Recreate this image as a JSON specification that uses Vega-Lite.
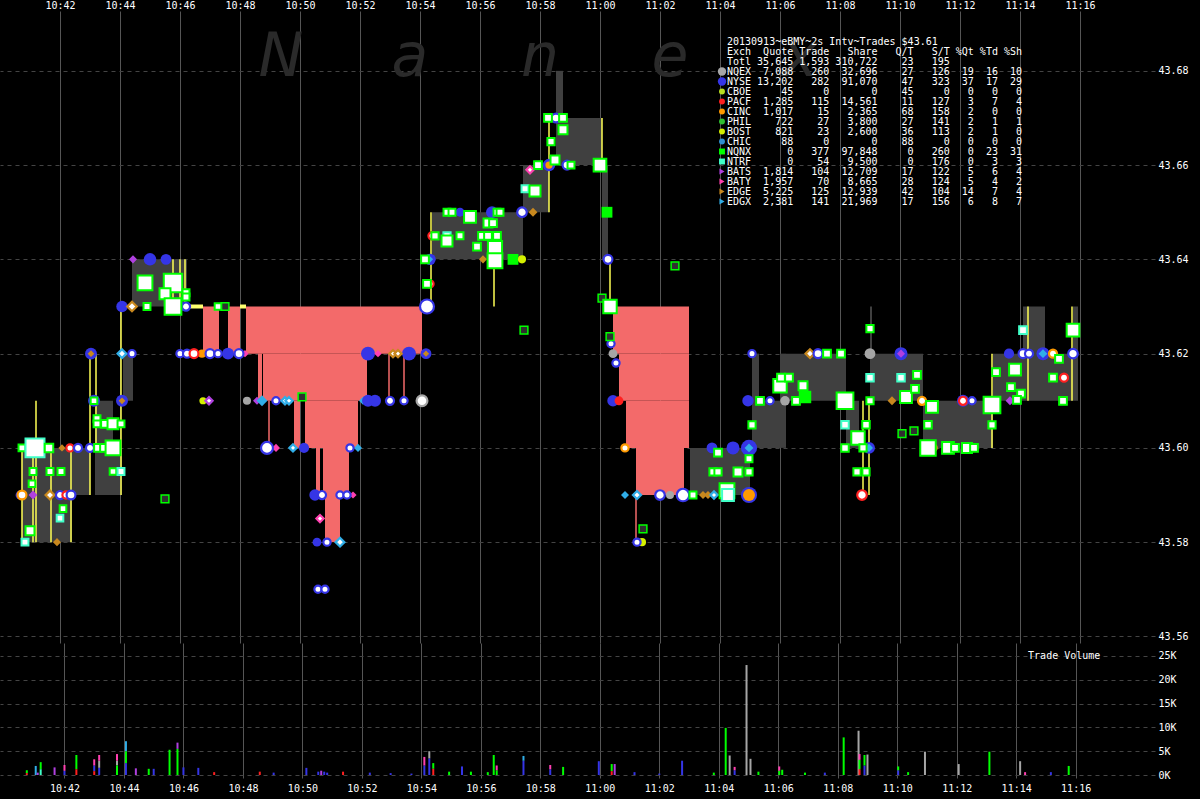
{
"$schema":"https://vega.github.io/schema/vega-lite/v6.json",
"background":"black",
"padding":{"left":0,"top":0,"right":11,"bottom":6},
"spacing":0,
"config":{"view":{"stroke":null},"axis":{"labelFont":"DejaVu Sans Mono","labelFontSize":10,"labelColor":"white","domain":false,"ticks":false,"title":null,"labelOverlap":false,"labelFlush":false}},
"vconcat":[
{
"width":1155,"height":632,
"layer":[
{"layer":[
{"data":{"values":[{"c":"N","t":"10:49:22"},{"c":"a","t":"10:53:40"},{"c":"n","t":"10:58:00"},{"c":"e","t":"11:02:20"},{"c":"x","t":"11:06:40"}],"format":{"parse":{"t":"date:'%H:%M:%S'"}}},
"mark":{"type":"text","font":"DejaVu Sans","fontSize":60,"fontStyle":"italic","color":"#2a2a2a","align":"center","baseline":"alphabetic"},
"encoding":{
"x":{"field":"t","type":"temporal","scale":{"domain":[{"year":1900,"month":1,"date":1,"hours":10,"minutes":40},{"year":1900,"month":1,"date":1,"hours":11,"minutes":18,"seconds":30}]},
"axis":{"orient":"top","format":"%H:%M","grid":true,"gridColor":"#555555","labelPadding":1,"tickCount":40,
"values":[{"year":1900,"month":1,"date":1,"hours":10,"minutes":42},{"year":1900,"month":1,"date":1,"hours":10,"minutes":44},{"year":1900,"month":1,"date":1,"hours":10,"minutes":46},{"year":1900,"month":1,"date":1,"hours":10,"minutes":48},{"year":1900,"month":1,"date":1,"hours":10,"minutes":50},{"year":1900,"month":1,"date":1,"hours":10,"minutes":52},{"year":1900,"month":1,"date":1,"hours":10,"minutes":54},{"year":1900,"month":1,"date":1,"hours":10,"minutes":56},{"year":1900,"month":1,"date":1,"hours":10,"minutes":58},{"year":1900,"month":1,"date":1,"hours":11,"minutes":0},{"year":1900,"month":1,"date":1,"hours":11,"minutes":2},{"year":1900,"month":1,"date":1,"hours":11,"minutes":4},{"year":1900,"month":1,"date":1,"hours":11,"minutes":6},{"year":1900,"month":1,"date":1,"hours":11,"minutes":8},{"year":1900,"month":1,"date":1,"hours":11,"minutes":10},{"year":1900,"month":1,"date":1,"hours":11,"minutes":12},{"year":1900,"month":1,"date":1,"hours":11,"minutes":14},{"year":1900,"month":1,"date":1,"hours":11,"minutes":16}]}},
"y":{"datum":43.6789,"type":"quantitative","scale":{"domain":[43.5586,43.6927],"nice":false,"zero":false},
"axis":{"orient":"right","values":[43.56,43.58,43.6,43.62,43.64,43.66,43.68],"tickCount":20,"format":".2f","grid":true,"gridColor":"#444444","gridDash":[4,4],"labelPadding":3}},
"text":{"field":"c"}}},
{"data":{"values":[
{"t1":"10:40:44","t2":"10:41:40","lo":43.58,"hi":43.60},
{"t1":"10:41:40","t2":"10:42:24","lo":43.58,"hi":43.60},
{"t1":"10:42:24","t2":"10:43:00","lo":43.59,"hi":43.60},
{"t1":"10:43:10","t2":"10:43:46","lo":43.59,"hi":43.61},
{"t1":"10:43:46","t2":"10:44:04","lo":43.59,"hi":43.60},
{"t1":"10:44:06","t2":"10:44:26","lo":43.61,"hi":43.62},
{"t1":"10:44:24","t2":"10:46:14","lo":43.63,"hi":43.64},
{"t1":"10:54:24","t2":"10:57:26","lo":43.64,"hi":43.65},
{"t1":"10:57:26","t2":"10:58:18","lo":43.65,"hi":43.66},
{"t1":"10:58:32","t2":"10:58:46","lo":43.66,"hi":43.68},
{"t1":"10:58:46","t2":"11:00:04","lo":43.66,"hi":43.67},
{"t1":"11:00:04","t2":"11:00:16","lo":43.64,"hi":43.66},
{"t1":"11:03:00","t2":"11:05:00","lo":43.59,"hi":43.60},
{"t1":"11:05:04","t2":"11:05:18","lo":43.60,"hi":43.62},
{"t1":"11:05:18","t2":"11:06:00","lo":43.60,"hi":43.61},
{"t1":"11:06:00","t2":"11:06:12","lo":43.60,"hi":43.62},
{"t1":"11:06:12","t2":"11:08:12","lo":43.61,"hi":43.62},
{"t1":"11:08:12","t2":"11:08:38","lo":43.60,"hi":43.61},
{"t1":"11:09:00","t2":"11:09:04","lo":43.62,"hi":43.63},
{"t1":"11:09:00","t2":"11:10:46","lo":43.61,"hi":43.62},
{"t1":"11:10:46","t2":"11:13:06","lo":43.60,"hi":43.61},
{"t1":"11:13:06","t2":"11:14:06","lo":43.61,"hi":43.62},
{"t1":"11:14:06","t2":"11:14:50","lo":43.61,"hi":43.63},
{"t1":"11:14:50","t2":"11:15:56","lo":43.61,"hi":43.62},
{"t1":"11:15:46","t2":"11:15:56","lo":43.62,"hi":43.63}
],"format":{"parse":{"t1":"date:'%H:%M:%S'","t2":"date:'%H:%M:%S'"}}},
"mark":{"type":"rect","color":"#404040"},
"encoding":{"x":{"field":"t1","type":"temporal"},"x2":{"field":"t2"},"y":{"field":"lo","type":"quantitative","scale":{"domain":[43.5586,43.6927],"nice":false,"zero":false}},"y2":{"field":"hi"}}},
{"data":{"values":[
{"t1":"10:46:46","t2":"10:47:18","lo":43.62,"hi":43.63},
{"t1":"10:47:36","t2":"10:48:00","lo":43.62,"hi":43.63},
{"t1":"10:48:12","t2":"10:54:04","lo":43.62,"hi":43.63},
{"t1":"10:48:36","t2":"10:48:44","lo":43.61,"hi":43.62},
{"t1":"10:48:46","t2":"10:52:14","lo":43.61,"hi":43.62},
{"t1":"10:49:48","t2":"10:50:00","lo":43.60,"hi":43.61},
{"t1":"10:50:10","t2":"10:51:56","lo":43.60,"hi":43.61},
{"t1":"10:50:32","t2":"10:50:40","lo":43.59,"hi":43.60},
{"t1":"10:50:46","t2":"10:51:38","lo":43.59,"hi":43.60},
{"t1":"10:50:50","t2":"10:51:20","lo":43.58,"hi":43.59},
{"t1":"11:00:26","t2":"11:02:58","lo":43.62,"hi":43.63},
{"t1":"11:00:38","t2":"11:02:58","lo":43.61,"hi":43.62},
{"t1":"11:00:52","t2":"11:02:58","lo":43.60,"hi":43.61},
{"t1":"11:01:12","t2":"11:02:48","lo":43.59,"hi":43.60}
],"format":{"parse":{"t1":"date:'%H:%M:%S'","t2":"date:'%H:%M:%S'"}}},
"mark":{"type":"rect","color":"#f36a6a"},
"encoding":{"x":{"field":"t1","type":"temporal"},"x2":{"field":"t2"},"y":{"field":"lo","type":"quantitative","scale":{"domain":[43.5586,43.6927],"nice":false,"zero":false}},"y2":{"field":"hi"}}},
{"data":{"values":[
{"t":"10:48:58","lo":43.60,"hi":43.61},{"t":"10:52:58","lo":43.61,"hi":43.62},{"t":"10:53:28","lo":43.61,"hi":43.62},{"t":"11:01:12","lo":43.58,"hi":43.59}
],"format":{"parse":{"t":"date:'%H:%M:%S'"}}},
"mark":{"type":"rule","color":"#f36a6a","strokeWidth":1.5},
"encoding":{"x":{"field":"t","type":"temporal"},"y":{"field":"lo","type":"quantitative","scale":{"domain":[43.5586,43.6927],"nice":false,"zero":false}},"y2":{"field":"hi"}}},
{"data":{"values":[
{"t":"10:40:44","lo":43.58,"hi":43.60},{"t":"10:41:06","lo":43.58,"hi":43.60},{"t":"10:41:12","lo":43.58,"hi":43.61},{"t":"10:41:42","lo":43.58,"hi":43.60},{"t":"10:42:22","lo":43.58,"hi":43.60},{"t":"10:43:00","lo":43.59,"hi":43.62},{"t":"10:43:12","lo":43.60,"hi":43.62},{"t":"10:44:02","lo":43.59,"hi":43.63},{"t":"10:45:46","lo":43.63,"hi":43.64},{"t":"10:46:00","lo":43.63,"hi":43.64},{"t":"10:46:10","lo":43.63,"hi":43.64},{"t":"10:54:22","lo":43.63,"hi":43.65},{"t":"10:56:28","lo":43.63,"hi":43.64},{"t":"10:58:18","lo":43.65,"hi":43.67},{"t":"11:00:04","lo":43.66,"hi":43.67},{"t":"11:00:20","lo":43.63,"hi":43.64},{"t":"11:08:46","lo":43.59,"hi":43.61},{"t":"11:08:58","lo":43.59,"hi":43.61},{"t":"11:13:04","lo":43.60,"hi":43.62},{"t":"11:14:16","lo":43.61,"hi":43.63},{"t":"11:15:44","lo":43.61,"hi":43.63}
],"format":{"parse":{"t":"date:'%H:%M:%S'"}}},
"mark":{"type":"rule","color":"#ffff55","strokeWidth":1.5},
"encoding":{"x":{"field":"t","type":"temporal"},"y":{"field":"lo","type":"quantitative","scale":{"domain":[43.5586,43.6927],"nice":false,"zero":false}},"y2":{"field":"hi"}}},
{"data":{"values":[{"t1":"10:46:14","t2":"10:46:46","p":43.63},{"t1":"10:48:00","t2":"10:48:12","p":43.63}],"format":{"parse":{"t1":"date:'%H:%M:%S'","t2":"date:'%H:%M:%S'"}}},
"mark":{"type":"rule","color":"#ffff70","strokeWidth":4},
"encoding":{"x":{"field":"t1","type":"temporal"},"x2":{"field":"t2"},"y":{"field":"p","type":"quantitative","scale":{"domain":[43.5586,43.6927],"nice":false,"zero":false}}}},
{"data":{"values":[
{"t":"10:40:40","p":43.59,"ex":"NYSE","v":60},{"t":"10:41:06","p":43.59,"ex":"BATS","v":60},{"t":"10:42:04","p":43.60,"ex":"EDGE","v":40},{"t":"10:41:54","p":43.58,"ex":"EDGE","v":50},
{"t":"10:43:02","p":43.62,"ex":"NYSE","v":110},{"t":"10:43:02","p":43.62,"ex":"EDGE","v":35},{"t":"10:43:08","p":43.61,"ex":"NYSE","v":110},{"t":"10:44:04","p":43.61,"ex":"NYSE","v":110},{"t":"10:44:04","p":43.61,"ex":"EDGE","v":35},{"t":"10:44:04","p":43.63,"ex":"NYSE","v":100},
{"t":"10:44:26","p":43.64,"ex":"BATS","v":50},{"t":"10:45:00","p":43.64,"ex":"NYSE","v":120},{"t":"10:45:32","p":43.64,"ex":"NYSE","v":90},{"t":"10:46:00","p":43.63,"ex":"NYSE","v":80},
{"t":"10:46:44","p":43.62,"ex":"CINC","v":50},{"t":"10:47:36","p":43.62,"ex":"NYSE","v":110},{"t":"10:48:10","p":43.62,"ex":"BATY","v":40},{"t":"10:46:46","p":43.61,"ex":"BOST","v":40},
{"t":"10:48:14","p":43.61,"ex":"NQEX","v":50},{"t":"10:48:34","p":43.61,"ex":"BATS","v":50},{"t":"10:48:44","p":43.61,"ex":"EDGX","v":90},{"t":"10:49:12","p":43.60,"ex":"BATY","v":50},
{"t":"10:50:08","p":43.60,"ex":"NYSE","v":80},{"t":"10:51:56","p":43.60,"ex":"EDGX","v":50},{"t":"10:50:30","p":43.59,"ex":"NYSE","v":100},{"t":"10:51:46","p":43.59,"ex":"BATY","v":40},{"t":"10:50:34","p":43.58,"ex":"NYSE","v":60},
{"t":"10:52:06","p":43.61,"ex":"EDGX","v":50},{"t":"10:52:16","p":43.61,"ex":"NYSE","v":110},{"t":"10:52:30","p":43.61,"ex":"NYSE","v":110},{"t":"10:52:16","p":43.62,"ex":"NYSE","v":150},{"t":"10:52:36","p":43.62,"ex":"BATY","v":40},
{"t":"10:53:38","p":43.62,"ex":"NYSE","v":150},{"t":"10:54:12","p":43.62,"ex":"NYSE","v":90},{"t":"10:54:12","p":43.62,"ex":"EDGE","v":30},{"t":"10:54:20","p":43.64,"ex":"NYSE","v":100},{"t":"10:54:20","p":43.64,"ex":"EDGX","v":30},
{"t":"10:55:20","p":43.65,"ex":"NYSE","v":60},{"t":"10:56:24","p":43.65,"ex":"NYSE","v":110},{"t":"10:57:46","p":43.65,"ex":"EDGE","v":60},{"t":"10:56:06","p":43.64,"ex":"EDGE","v":50},{"t":"10:57:06","p":43.64,"ex":"NQNX","v":90},{"t":"10:57:24","p":43.64,"ex":"BOST","v":50},
{"t":"10:58:18","p":43.66,"ex":"NYSE","v":120},{"t":"10:58:18","p":43.66,"ex":"CINC","v":40},{"t":"11:00:14","p":43.65,"ex":"NQNX","v":90},{"t":"11:00:26","p":43.62,"ex":"NQEX","v":60},{"t":"11:00:26","p":43.61,"ex":"NYSE","v":100},{"t":"11:00:38","p":43.61,"ex":"PACF","v":60},
{"t":"11:00:50","p":43.59,"ex":"EDGX","v":50},{"t":"11:02:20","p":43.59,"ex":"NQEX","v":50},{"t":"11:03:26","p":43.59,"ex":"EDGE","v":50},{"t":"11:03:36","p":43.59,"ex":"EDGE","v":50},{"t":"11:01:24","p":43.58,"ex":"BOST","v":50},
{"t":"11:03:44","p":43.60,"ex":"NYSE","v":90},{"t":"11:04:26","p":43.60,"ex":"NYSE","v":130},{"t":"11:04:58","p":43.60,"ex":"NYSE","v":200},{"t":"11:04:58","p":43.60,"ex":"EDGX","v":60},{"t":"11:04:58","p":43.59,"ex":"NYSE","v":200},{"t":"11:04:58","p":43.59,"ex":"CINC","v":110},
{"t":"11:04:56","p":43.61,"ex":"NYSE","v":100},{"t":"11:06:10","p":43.61,"ex":"NQEX","v":70},{"t":"11:06:50","p":43.6108,"ex":"NQNX","v":120},{"t":"11:09:00","p":43.62,"ex":"NQEX","v":90},{"t":"11:10:02","p":43.62,"ex":"NYSE","v":130},{"t":"11:10:02","p":43.62,"ex":"BATS","v":50},
{"t":"11:09:44","p":43.61,"ex":"EDGE","v":60},{"t":"11:08:58","p":43.60,"ex":"NYSE","v":110},{"t":"11:08:58","p":43.60,"ex":"EDGX","v":50},{"t":"11:12:06","p":43.61,"ex":"NYSE","v":110},{"t":"11:13:40","p":43.61,"ex":"BATS","v":60},{"t":"11:13:38","p":43.62,"ex":"NYSE","v":80},
{"t":"11:14:46","p":43.62,"ex":"NYSE","v":130},{"t":"11:14:46","p":43.62,"ex":"EDGX","v":60}
],"format":{"parse":{"t":"date:'%H:%M:%S'"}}},
"mark":{"type":"point","filled":true,"opacity":1,"strokeWidth":0},
"encoding":{"x":{"field":"t","type":"temporal"},"y":{"field":"p","type":"quantitative","scale":{"domain":[43.5586,43.6927],"nice":false,"zero":false}},
"color":{"field":"ex","type":"nominal","legend":null,"scale":{"domain":["NQEX","NYSE","CBOE","PACF","CINC","PHIL","BOST","CHIC","NQNX","NTRF","BATS","BATY","EDGE","EDGX"],"range":["#a6a6a6","#3535e6","#b8e020","#ff2020","#ff9a00","#30c030","#d4f000","#2f8fd0","#00ff00","#40ffc8","#b040e0","#ff40b0","#c8881e","#30aee8"]}},
"shape":{"field":"ex","type":"nominal","legend":null,"scale":{"domain":["NQEX","NYSE","CBOE","PACF","CINC","PHIL","BOST","CHIC","NQNX","NTRF","BATS","BATY","EDGE","EDGX"],"range":["circle","circle","circle","circle","circle","circle","circle","circle","square","square","diamond","diamond","diamond","diamond"]}},
"size":{"field":"v","type":"quantitative","legend":null,"scale":{"domain":[0,200],"range":[0,260]}}}},
{"data":{"values":[
{"t":"10:40:44","p":43.59,"ex":"CINC","v":60},{"t":"10:41:40","p":43.59,"ex":"EDGE","v":60},{"t":"10:42:00","p":43.59,"ex":"NYSE","v":50},{"t":"10:42:12","p":43.59,"ex":"PACF","v":40},{"t":"10:42:22","p":43.59,"ex":"NYSE","v":60},
{"t":"10:42:20","p":43.60,"ex":"PACF","v":40},{"t":"10:42:36","p":43.60,"ex":"NYSE","v":50},{"t":"10:43:00","p":43.60,"ex":"NYSE","v":50},{"t":"10:44:04","p":43.62,"ex":"EDGX","v":60},{"t":"10:44:24","p":43.62,"ex":"NYSE","v":40},
{"t":"10:44:24","p":43.63,"ex":"EDGE","v":70},{"t":"10:46:12","p":43.63,"ex":"NYSE","v":50},{"t":"10:46:00","p":43.62,"ex":"NYSE","v":40},{"t":"10:46:14","p":43.62,"ex":"NYSE","v":50},{"t":"10:46:28","p":43.62,"ex":"PACF","v":60},
{"t":"10:47:00","p":43.62,"ex":"NYSE","v":60},{"t":"10:47:16","p":43.62,"ex":"NYSE","v":40},{"t":"10:47:58","p":43.62,"ex":"NYSE","v":60},{"t":"10:46:58","p":43.61,"ex":"BATS","v":40},{"t":"10:49:12","p":43.61,"ex":"NYSE","v":40},
{"t":"10:49:30","p":43.61,"ex":"EDGX","v":40},{"t":"10:49:38","p":43.61,"ex":"EDGX","v":40},{"t":"10:48:54","p":43.60,"ex":"NYSE","v":110},{"t":"10:49:46","p":43.60,"ex":"EDGX","v":40},{"t":"10:51:40","p":43.60,"ex":"NYSE","v":40},
{"t":"10:50:44","p":43.59,"ex":"NYSE","v":50},{"t":"10:51:20","p":43.59,"ex":"NYSE","v":40},{"t":"10:51:34","p":43.59,"ex":"NYSE","v":40},{"t":"10:50:40","p":43.585,"ex":"BATY","v":40},{"t":"10:50:54","p":43.58,"ex":"NYSE","v":40},
{"t":"10:51:20","p":43.58,"ex":"EDGX","v":60},{"t":"10:50:36","p":43.57,"ex":"NYSE","v":40},{"t":"10:50:50","p":43.57,"ex":"NYSE","v":40},{"t":"10:53:00","p":43.61,"ex":"NYSE","v":50},{"t":"10:53:28","p":43.61,"ex":"NYSE","v":40},
{"t":"10:54:04","p":43.61,"ex":"NQEX","v":90},{"t":"10:53:06","p":43.62,"ex":"EDGE","v":40},{"t":"10:53:16","p":43.62,"ex":"EDGE","v":40},{"t":"10:54:14","p":43.63,"ex":"NYSE","v":150},{"t":"10:54:20","p":43.6348,"ex":"PACF","v":40},
{"t":"10:54:24","p":43.645,"ex":"PACF","v":40},{"t":"10:57:24","p":43.65,"ex":"NYSE","v":70},{"t":"10:57:40","p":43.659,"ex":"BATY","v":40},{"t":"10:58:54","p":43.66,"ex":"NYSE","v":60},{"t":"10:58:32","p":43.67,"ex":"NYSE","v":60},
{"t":"11:00:16","p":43.64,"ex":"NYSE","v":60},{"t":"11:00:22","p":43.6221,"ex":"NYSE","v":40},{"t":"11:00:32","p":43.618,"ex":"NYSE","v":40},{"t":"11:00:50","p":43.60,"ex":"CINC","v":40},{"t":"11:01:14","p":43.59,"ex":"EDGX","v":50},
{"t":"11:02:00","p":43.59,"ex":"NYSE","v":70},{"t":"11:02:46","p":43.59,"ex":"NYSE","v":120},{"t":"11:03:48","p":43.59,"ex":"EDGX","v":40},{"t":"11:01:14","p":43.58,"ex":"NYSE","v":40},{"t":"11:05:04","p":43.62,"ex":"NYSE","v":40},
{"t":"11:05:40","p":43.61,"ex":"NYSE","v":40},{"t":"11:07:00","p":43.62,"ex":"EDGE","v":60},{"t":"11:07:16","p":43.62,"ex":"NYSE","v":60},{"t":"11:08:10","p":43.61,"ex":"CINC","v":40},{"t":"11:10:44","p":43.61,"ex":"CINC","v":50},
{"t":"11:11:06","p":43.60,"ex":"CINC","v":40},{"t":"11:08:44","p":43.59,"ex":"PACF","v":70},{"t":"11:12:06","p":43.61,"ex":"PACF","v":50},{"t":"11:12:24","p":43.61,"ex":"NYSE","v":40},{"t":"11:14:06","p":43.62,"ex":"NYSE","v":60},
{"t":"11:14:18","p":43.62,"ex":"NYSE","v":50},{"t":"11:15:06","p":43.62,"ex":"CINC","v":50},{"t":"11:15:46","p":43.62,"ex":"NYSE","v":70},{"t":"11:15:28","p":43.6149,"ex":"PACF","v":50}
],"format":{"parse":{"t":"date:'%H:%M:%S'"}}},
"mark":{"type":"point","filled":true,"fill":"white","opacity":1,"strokeWidth":2.2},
"encoding":{"x":{"field":"t","type":"temporal"},"y":{"field":"p","type":"quantitative","scale":{"domain":[43.5586,43.6927],"nice":false,"zero":false}},
"stroke":{"field":"ex","type":"nominal","legend":null,"scale":{"domain":["NQEX","NYSE","CBOE","PACF","CINC","PHIL","BOST","CHIC","NQNX","NTRF","BATS","BATY","EDGE","EDGX"],"range":["#a6a6a6","#3535e6","#b8e020","#ff2020","#ff9a00","#30c030","#d4f000","#2f8fd0","#00ff00","#40ffc8","#b040e0","#ff40b0","#c8881e","#30aee8"]}},
"shape":{"field":"ex","type":"nominal","legend":null,"scale":{"domain":["NQEX","NYSE","CBOE","PACF","CINC","PHIL","BOST","CHIC","NQNX","NTRF","BATS","BATY","EDGE","EDGX"],"range":["circle","circle","circle","circle","circle","circle","circle","circle","square","square","diamond","diamond","diamond","diamond"]}},
"size":{"field":"v","type":"quantitative","legend":null,"scale":{"domain":[0,200],"range":[0,260]}}}},
{"data":{"values":[
{"t":"10:45:30","p":43.5892,"ex":"NQNX"},{"t":"10:47:30","p":43.63,"ex":"NQNX"},{"t":"10:50:04","p":43.6108,"ex":"NQNX"},{"t":"10:57:28","p":43.625,"ex":"NQNX"},{"t":"11:02:30","p":43.6386,"ex":"NQNX"},
{"t":"11:00:04","p":43.6318,"ex":"NQNX"},{"t":"11:00:20","p":43.6236,"ex":"NQNX"},{"t":"11:01:26","p":43.5828,"ex":"NQNX"},{"t":"11:10:04","p":43.603,"ex":"NQNX"},{"t":"11:10:28","p":43.6036,"ex":"NQNX"}
],"format":{"parse":{"t":"date:'%H:%M:%S'"}}},
"mark":{"type":"point","shape":"square","filled":true,"fill":"#303030","opacity":1,"strokeWidth":1.5,"size":60},
"encoding":{"x":{"field":"t","type":"temporal"},"y":{"field":"p","type":"quantitative","scale":{"domain":[43.5586,43.6927],"nice":false,"zero":false}},
"stroke":{"field":"ex","type":"nominal","legend":null,"scale":{"domain":["NQEX","NYSE","CBOE","PACF","CINC","PHIL","BOST","CHIC","NQNX","NTRF","BATS","BATY","EDGE","EDGX"],"range":["#a6a6a6","#3535e6","#b8e020","#ff2020","#ff9a00","#30c030","#d4f000","#2f8fd0","#00ff00","#40ffc8","#b040e0","#ff40b0","#c8881e","#30aee8"]}}}},
{"data":{"values":[
{"t":"10:40:44","p":43.60,"ex":"NQNX","v":120},{"t":"10:41:10","p":43.60,"ex":"NTRF","v":900},{"t":"10:41:38","p":43.60,"ex":"NQNX","v":180},{"t":"10:43:16","p":43.60,"ex":"NQNX","v":150},{"t":"10:43:28","p":43.60,"ex":"NQNX","v":150},{"t":"10:43:46","p":43.60,"ex":"NQNX","v":550},
{"t":"10:41:06","p":43.595,"ex":"NQNX","v":120},{"t":"10:41:40","p":43.595,"ex":"NQNX","v":120},{"t":"10:42:02","p":43.595,"ex":"NQNX","v":120},{"t":"10:43:46","p":43.595,"ex":"NQNX","v":110},{"t":"10:44:02","p":43.595,"ex":"NTRF","v":120},
{"t":"10:41:04","p":43.5924,"ex":"NQNX","v":110},{"t":"10:42:06","p":43.5871,"ex":"NQNX","v":110},{"t":"10:42:00","p":43.5851,"ex":"NTRF","v":110},{"t":"10:41:00","p":43.5824,"ex":"NQNX","v":200},{"t":"10:40:50","p":43.58,"ex":"NTRF","v":120},
{"t":"10:43:08","p":43.61,"ex":"NQNX","v":110},{"t":"10:43:14","p":43.6062,"ex":"NQNX","v":120},{"t":"10:43:14","p":43.6051,"ex":"NQNX","v":120},{"t":"10:43:30","p":43.6051,"ex":"NQNX","v":150},{"t":"10:43:46","p":43.6051,"ex":"NQNX","v":300},{"t":"10:44:02","p":43.6051,"ex":"NQNX","v":120},
{"t":"10:44:50","p":43.635,"ex":"NQNX","v":550},{"t":"10:45:46","p":43.635,"ex":"NQNX","v":850},{"t":"10:45:30","p":43.6327,"ex":"NQNX","v":300},{"t":"10:45:46","p":43.63,"ex":"NQNX","v":700},{"t":"10:46:12","p":43.6329,"ex":"NQNX","v":120},{"t":"10:46:12","p":43.632,"ex":"NQNX","v":120},
{"t":"10:44:54","p":43.63,"ex":"NQNX","v":120},{"t":"10:47:16","p":43.63,"ex":"NQNX","v":110},{"t":"10:54:14","p":43.6348,"ex":"NQNX","v":150},{"t":"10:54:10","p":43.64,"ex":"NQNX","v":150},
{"t":"10:54:30","p":43.645,"ex":"NQNX","v":130},{"t":"10:54:54","p":43.645,"ex":"NTRF","v":130},{"t":"10:55:20","p":43.645,"ex":"NQNX","v":120},{"t":"10:54:54","p":43.6439,"ex":"NQNX","v":300},{"t":"10:54:54","p":43.65,"ex":"NQNX","v":120},{"t":"10:55:04","p":43.65,"ex":"NQNX","v":120},
{"t":"10:55:40","p":43.649,"ex":"NQNX","v":350},{"t":"10:56:34","p":43.65,"ex":"NQNX","v":120},{"t":"10:56:40","p":43.65,"ex":"NQNX","v":120},{"t":"10:56:16","p":43.6477,"ex":"NQNX","v":200},{"t":"10:56:26","p":43.6477,"ex":"NQNX","v":150},
{"t":"10:55:54","p":43.6427,"ex":"NQNX","v":150},{"t":"10:56:04","p":43.645,"ex":"NQNX","v":150},{"t":"10:56:16","p":43.645,"ex":"NQNX","v":150},{"t":"10:56:34","p":43.645,"ex":"NQNX","v":150},{"t":"10:56:30","p":43.6424,"ex":"NQNX","v":500},{"t":"10:56:30","p":43.6397,"ex":"NQNX","v":550},
{"t":"10:57:30","p":43.655,"ex":"NTRF","v":120},{"t":"10:57:50","p":43.6545,"ex":"NQNX","v":300},{"t":"10:57:56","p":43.66,"ex":"NQNX","v":150},{"t":"10:58:30","p":43.6611,"ex":"NQNX","v":200},{"t":"10:59:02","p":43.66,"ex":"NQNX","v":120},
{"t":"10:58:16","p":43.67,"ex":"NQNX","v":150},{"t":"10:58:46","p":43.67,"ex":"NQNX","v":150},{"t":"10:58:46","p":43.6675,"ex":"NQNX","v":200},{"t":"10:58:22","p":43.665,"ex":"NQNX","v":130},{"t":"11:00:00","p":43.66,"ex":"NQNX","v":400},{"t":"11:00:20","p":43.63,"ex":"NQNX","v":450},
{"t":"11:03:06","p":43.59,"ex":"NQNX","v":120},{"t":"11:05:20","p":43.61,"ex":"NQNX","v":150},{"t":"11:06:00","p":43.6132,"ex":"NQNX","v":450},{"t":"11:06:02","p":43.6149,"ex":"NQNX","v":150},{"t":"11:05:04","p":43.6049,"ex":"NQNX","v":130},
{"t":"11:03:56","p":43.599,"ex":"NQNX","v":150},{"t":"11:04:58","p":43.5977,"ex":"NQNX","v":120},{"t":"11:03:46","p":43.5949,"ex":"NQNX","v":130},{"t":"11:03:56","p":43.5949,"ex":"NQNX","v":130},{"t":"11:04:36","p":43.5949,"ex":"NQNX","v":200},{"t":"11:04:58","p":43.5949,"ex":"NQNX","v":130},
{"t":"11:04:14","p":43.5909,"ex":"NQNX","v":550},{"t":"11:04:16","p":43.59,"ex":"NTRF","v":350},{"t":"11:07:34","p":43.62,"ex":"NQNX","v":150},{"t":"11:08:02","p":43.62,"ex":"NQNX","v":150},{"t":"11:09:00","p":43.6253,"ex":"NQNX","v":130},
{"t":"11:06:18","p":43.6149,"ex":"NQNX","v":150},{"t":"11:06:32","p":43.61,"ex":"NQNX","v":150},{"t":"11:06:46","p":43.6132,"ex":"NQNX","v":200},{"t":"11:08:10","p":43.61,"ex":"NQNX","v":700},{"t":"11:09:00","p":43.61,"ex":"NQNX","v":130},
{"t":"11:10:12","p":43.6108,"ex":"NQNX","v":350},{"t":"11:11:04","p":43.6087,"ex":"NQNX","v":350},{"t":"11:10:30","p":43.6125,"ex":"NQNX","v":150},{"t":"11:10:34","p":43.6155,"ex":"NQNX","v":150},{"t":"11:09:00","p":43.6149,"ex":"NTRF","v":140},{"t":"11:10:02","p":43.6149,"ex":"NTRF","v":140},
{"t":"11:08:10","p":43.6049,"ex":"NTRF","v":140},{"t":"11:08:52","p":43.6049,"ex":"NQNX","v":140},{"t":"11:10:56","p":43.6049,"ex":"NQNX","v":140},{"t":"11:08:10","p":43.60,"ex":"NQNX","v":140},{"t":"11:08:36","p":43.6021,"ex":"NQNX","v":450},{"t":"11:08:46","p":43.60,"ex":"NQNX","v":130},
{"t":"11:10:56","p":43.60,"ex":"NQNX","v":600},{"t":"11:08:34","p":43.5949,"ex":"NQNX","v":130},{"t":"11:08:52","p":43.5949,"ex":"NQNX","v":130},{"t":"11:11:36","p":43.60,"ex":"NQNX","v":350},{"t":"11:11:50","p":43.60,"ex":"NQNX","v":150},{"t":"11:12:14","p":43.60,"ex":"NQNX","v":250},{"t":"11:12:28","p":43.60,"ex":"NQNX","v":150},
{"t":"11:13:04","p":43.6091,"ex":"NQNX","v":700},{"t":"11:13:04","p":43.6049,"ex":"NQNX","v":130},{"t":"11:13:12","p":43.6161,"ex":"NQNX","v":150},{"t":"11:13:50","p":43.6166,"ex":"NQNX","v":350},{"t":"11:13:42","p":43.6129,"ex":"NQNX","v":150},{"t":"11:14:02","p":43.6115,"ex":"NQNX","v":150},
{"t":"11:13:54","p":43.6102,"ex":"NQNX","v":150},{"t":"11:15:18","p":43.6189,"ex":"NQNX","v":150},{"t":"11:14:06","p":43.625,"ex":"NTRF","v":150},{"t":"11:15:46","p":43.625,"ex":"NQNX","v":400},{"t":"11:15:06","p":43.6149,"ex":"NQNX","v":150},{"t":"11:15:26","p":43.61,"ex":"NQNX","v":150}
],"format":{"parse":{"t":"date:'%H:%M:%S'"}}},
"mark":{"type":"point","shape":"square","filled":true,"fill":"white","opacity":1,"strokeWidth":2},
"encoding":{"x":{"field":"t","type":"temporal"},"y":{"field":"p","type":"quantitative","scale":{"domain":[43.5586,43.6927],"nice":false,"zero":false}},
"stroke":{"field":"ex","type":"nominal","legend":null,"scale":{"domain":["NQEX","NYSE","CBOE","PACF","CINC","PHIL","BOST","CHIC","NQNX","NTRF","BATS","BATY","EDGE","EDGX"],"range":["#a6a6a6","#3535e6","#b8e020","#ff2020","#ff9a00","#30c030","#d4f000","#2f8fd0","#00ff00","#40ffc8","#b040e0","#ff40b0","#c8881e","#30aee8"]}},
"size":{"field":"v","type":"quantitative","legend":null,"scale":{"domain":[0,1000],"range":[0,400]}}}}
],"resolve":{"scale":{"size":"independent"}}},
{"layer":[
{"data":{"values":[
{"line":0,"s":"20130913~eBMY~2s Intv~Trades $43.61"},
{"line":1,"s":"Exch\u00a0\u00a0Quote\u00a0Trade\u00a0\u00a0\u00a0Share\u00a0\u00a0\u00a0Q/T\u00a0\u00a0\u00a0S/T\u00a0%Qt\u00a0%Td\u00a0%Sh"},
{"line":2,"s":"Totl\u00a035,645\u00a01,593\u00a0310,722\u00a0\u00a0\u00a0\u00a023\u00a0\u00a0\u00a0195"},
{"line":3,"s":"NQEX\u00a0\u00a07,088\u00a0\u00a0\u00a0260\u00a0\u00a032,696\u00a0\u00a0\u00a0\u00a027\u00a0\u00a0\u00a0126\u00a0\u00a019\u00a0\u00a016\u00a0\u00a010"},
{"line":4,"s":"NYSE\u00a013,202\u00a0\u00a0\u00a0282\u00a0\u00a091,070\u00a0\u00a0\u00a0\u00a047\u00a0\u00a0\u00a0323\u00a0\u00a037\u00a0\u00a017\u00a0\u00a029"},
{"line":5,"s":"CBOE\u00a0\u00a0\u00a0\u00a0\u00a045\u00a0\u00a0\u00a0\u00a0\u00a00\u00a0\u00a0\u00a0\u00a0\u00a0\u00a0\u00a00\u00a0\u00a0\u00a0\u00a045\u00a0\u00a0\u00a0\u00a0\u00a00\u00a0\u00a0\u00a00\u00a0\u00a0\u00a00\u00a0\u00a0\u00a00"},
{"line":6,"s":"PACF\u00a0\u00a01,285\u00a0\u00a0\u00a0115\u00a0\u00a014,561\u00a0\u00a0\u00a0\u00a011\u00a0\u00a0\u00a0127\u00a0\u00a0\u00a03\u00a0\u00a0\u00a07\u00a0\u00a0\u00a04"},
{"line":7,"s":"CINC\u00a0\u00a01,017\u00a0\u00a0\u00a0\u00a015\u00a0\u00a0\u00a02,365\u00a0\u00a0\u00a0\u00a068\u00a0\u00a0\u00a0158\u00a0\u00a0\u00a02\u00a0\u00a0\u00a00\u00a0\u00a0\u00a00"},
{"line":8,"s":"PHIL\u00a0\u00a0\u00a0\u00a0722\u00a0\u00a0\u00a0\u00a027\u00a0\u00a0\u00a03,800\u00a0\u00a0\u00a0\u00a027\u00a0\u00a0\u00a0141\u00a0\u00a0\u00a02\u00a0\u00a0\u00a01\u00a0\u00a0\u00a01"},
{"line":9,"s":"BOST\u00a0\u00a0\u00a0\u00a0821\u00a0\u00a0\u00a0\u00a023\u00a0\u00a0\u00a02,600\u00a0\u00a0\u00a0\u00a036\u00a0\u00a0\u00a0113\u00a0\u00a0\u00a02\u00a0\u00a0\u00a01\u00a0\u00a0\u00a00"},
{"line":10,"s":"CHIC\u00a0\u00a0\u00a0\u00a0\u00a088\u00a0\u00a0\u00a0\u00a0\u00a00\u00a0\u00a0\u00a0\u00a0\u00a0\u00a0\u00a00\u00a0\u00a0\u00a0\u00a088\u00a0\u00a0\u00a0\u00a0\u00a00\u00a0\u00a0\u00a00\u00a0\u00a0\u00a00\u00a0\u00a0\u00a00"},
{"line":11,"s":"NQNX\u00a0\u00a0\u00a0\u00a0\u00a0\u00a00\u00a0\u00a0\u00a0377\u00a0\u00a097,848\u00a0\u00a0\u00a0\u00a0\u00a00\u00a0\u00a0\u00a0260\u00a0\u00a0\u00a00\u00a0\u00a023\u00a0\u00a031"},
{"line":12,"s":"NTRF\u00a0\u00a0\u00a0\u00a0\u00a0\u00a00\u00a0\u00a0\u00a0\u00a054\u00a0\u00a0\u00a09,500\u00a0\u00a0\u00a0\u00a0\u00a00\u00a0\u00a0\u00a0176\u00a0\u00a0\u00a00\u00a0\u00a0\u00a03\u00a0\u00a0\u00a03"},
{"line":13,"s":"BATS\u00a0\u00a01,814\u00a0\u00a0\u00a0104\u00a0\u00a012,709\u00a0\u00a0\u00a0\u00a017\u00a0\u00a0\u00a0122\u00a0\u00a0\u00a05\u00a0\u00a0\u00a06\u00a0\u00a0\u00a04"},
{"line":14,"s":"BATY\u00a0\u00a01,957\u00a0\u00a0\u00a0\u00a070\u00a0\u00a0\u00a08,665\u00a0\u00a0\u00a0\u00a028\u00a0\u00a0\u00a0124\u00a0\u00a0\u00a05\u00a0\u00a0\u00a04\u00a0\u00a0\u00a02"},
{"line":15,"s":"EDGE\u00a0\u00a05,225\u00a0\u00a0\u00a0125\u00a0\u00a012,939\u00a0\u00a0\u00a0\u00a042\u00a0\u00a0\u00a0104\u00a0\u00a014\u00a0\u00a0\u00a07\u00a0\u00a0\u00a04"},
{"line":16,"s":"EDGX\u00a0\u00a02,381\u00a0\u00a0\u00a0141\u00a0\u00a021,969\u00a0\u00a0\u00a0\u00a017\u00a0\u00a0\u00a0156\u00a0\u00a0\u00a06\u00a0\u00a0\u00a08\u00a0\u00a0\u00a07"}
]},
"mark":{"type":"text","align":"left","baseline":"middle","font":"DejaVu Sans Mono","fontSize":10,"color":"white"},
"encoding":{"x":{"datum":{"year":1900,"month":1,"date":1,"hours":11,"minutes":4,"seconds":14},"type":"temporal"},
"y":{"field":"line","type":"quantitative","scale":{"domain":[-3.05,60.15],"reverse":true,"nice":false,"zero":false},"axis":null},
"text":{"field":"s"}}},
{"data":{"values":[{"line":3,"ex":"NQEX","v":2},{"line":4,"ex":"NYSE","v":2},{"line":5,"ex":"CBOE","v":1},{"line":6,"ex":"PACF","v":1},{"line":7,"ex":"CINC","v":1},{"line":8,"ex":"PHIL","v":1},{"line":9,"ex":"BOST","v":1},{"line":10,"ex":"CHIC","v":1},{"line":11,"ex":"NQNX","v":1},{"line":12,"ex":"NTRF","v":1},{"line":13,"ex":"BATS","v":1},{"line":14,"ex":"BATY","v":1},{"line":15,"ex":"EDGE","v":1},{"line":16,"ex":"EDGX","v":1}]},
"mark":{"type":"point","filled":true,"opacity":1},
"encoding":{"x":{"datum":{"year":1900,"month":1,"date":1,"hours":11,"minutes":4,"seconds":4},"type":"temporal"},
"y":{"field":"line","type":"quantitative","scale":{"domain":[-3.05,60.15],"reverse":true,"nice":false,"zero":false},"axis":null},
"size":{"field":"v","type":"quantitative","legend":null,"scale":{"domain":[0,2],"range":[0,70]}},
"color":{"field":"ex","type":"nominal","legend":null,"scale":{"domain":["NQEX","NYSE","CBOE","PACF","CINC","PHIL","BOST","CHIC","NQNX","NTRF","BATS","BATY","EDGE","EDGX"],"range":["#a6a6a6","#3535e6","#b8e020","#ff2020","#ff9a00","#30c030","#d4f000","#2f8fd0","#00ff00","#40ffc8","#b040e0","#ff40b0","#c8881e","#30aee8"]}},
"shape":{"field":"ex","type":"nominal","legend":null,"scale":{"domain":["NQEX","NYSE","CBOE","PACF","CINC","PHIL","BOST","CHIC","NQNX","NTRF","BATS","BATY","EDGE","EDGX"],"range":["circle","circle","circle","circle","circle","circle","circle","circle","square","square","triangle-right","triangle-right","triangle-right","triangle-right"]}}}}
]}
],
"resolve":{"scale":{"y":"independent","shape":"independent","size":"independent"}}
},
{
"width":1155,"height":135,
"layer":[
{"data":{"values":[
{"t":"10:40:44","ex":"NQNX","v":600},{"t":"10:40:44","ex":"PACF","v":400},{"t":"10:41:02","ex":"EDGX","v":1900},{"t":"10:41:06","ex":"BATS","v":500},{"t":"10:41:12","ex":"NQNX","v":1500},{"t":"10:41:12","ex":"NTRF","v":1200},
{"t":"10:41:40","ex":"BATS","v":1600},{"t":"10:42:00","ex":"NYSE","v":900},{"t":"10:42:00","ex":"BATY","v":1200},{"t":"10:42:24","ex":"NQNX","v":3000},{"t":"10:42:24","ex":"PACF","v":1200},
{"t":"10:43:00","ex":"NYSE","v":1200},{"t":"10:43:00","ex":"PACF","v":800},{"t":"10:43:00","ex":"BATY","v":1300},{"t":"10:43:10","ex":"NQEX","v":1500},{"t":"10:43:10","ex":"NYSE","v":1500},{"t":"10:43:10","ex":"BATY","v":1200},
{"t":"10:43:46","ex":"NQEX","v":1000},{"t":"10:43:46","ex":"NQNX","v":2000},{"t":"10:43:46","ex":"BATY","v":1400},{"t":"10:44:04","ex":"NYSE","v":2500},{"t":"10:44:04","ex":"NQNX","v":2500},{"t":"10:44:04","ex":"EDGX","v":2100},
{"t":"10:44:24","ex":"BATS","v":1400},{"t":"10:44:50","ex":"NQNX","v":1300},{"t":"10:45:00","ex":"NYSE","v":1300},{"t":"10:45:32","ex":"NQNX","v":5300},{"t":"10:45:48","ex":"NQNX","v":5500},{"t":"10:45:48","ex":"BATS","v":1300},
{"t":"10:46:00","ex":"NYSE","v":1600},{"t":"10:46:30","ex":"NYSE","v":1500},{"t":"10:47:02","ex":"PACF","v":600},{"t":"10:48:34","ex":"PACF","v":700},{"t":"10:49:02","ex":"NYSE","v":500},{"t":"10:50:08","ex":"NYSE","v":1500},
{"t":"10:50:32","ex":"NYSE","v":700},{"t":"10:50:38","ex":"BATS","v":900},{"t":"10:50:44","ex":"NYSE","v":700},{"t":"10:50:50","ex":"NYSE","v":500},{"t":"10:51:22","ex":"PACF","v":700},{"t":"10:52:16","ex":"NYSE","v":500},
{"t":"10:52:58","ex":"NYSE","v":400},{"t":"10:53:40","ex":"NYSE","v":300},{"t":"10:54:06","ex":"NYSE","v":2000},{"t":"10:54:06","ex":"BATY","v":1800},{"t":"10:54:16","ex":"NYSE","v":3500},{"t":"10:54:16","ex":"NQEX","v":1500},
{"t":"10:54:24","ex":"NQNX","v":1200},{"t":"10:54:24","ex":"PACF","v":1300},{"t":"10:54:56","ex":"NQNX","v":700},{"t":"10:55:22","ex":"NYSE","v":1800},{"t":"10:55:40","ex":"NQNX","v":700},{"t":"10:56:14","ex":"NQNX","v":600},
{"t":"10:56:26","ex":"NQNX","v":4200},{"t":"10:56:32","ex":"NQNX","v":1000},{"t":"10:56:32","ex":"BATY","v":1000},{"t":"10:57:26","ex":"NYSE","v":3000},{"t":"10:57:26","ex":"EDGX","v":1000},{"t":"10:58:20","ex":"NYSE","v":1200},{"t":"10:58:20","ex":"BATY","v":900},
{"t":"10:58:46","ex":"NQNX","v":1700},{"t":"10:59:58","ex":"NYSE","v":2900},{"t":"11:00:24","ex":"NQNX","v":1500},{"t":"11:00:24","ex":"PACF","v":800},{"t":"11:00:30","ex":"BATS","v":2300},{"t":"11:01:10","ex":"NYSE","v":600},
{"t":"11:02:00","ex":"NYSE","v":300},{"t":"11:02:46","ex":"NYSE","v":3000},{"t":"11:03:50","ex":"NQNX","v":500},{"t":"11:04:14","ex":"NQNX","v":9900},{"t":"11:04:22","ex":"NQEX","v":4100},{"t":"11:04:32","ex":"NYSE","v":1000},{"t":"11:04:32","ex":"BATY","v":700},
{"t":"11:04:56","ex":"NQEX","v":23100},{"t":"11:05:04","ex":"NQEX","v":3400},{"t":"11:05:20","ex":"NQNX","v":700},{"t":"11:06:02","ex":"NQNX","v":900},{"t":"11:06:02","ex":"BATY","v":900},{"t":"11:06:08","ex":"NQNX","v":1100},
{"t":"11:06:54","ex":"NQNX","v":500},{"t":"11:07:34","ex":"NYSE","v":500},{"t":"11:08:12","ex":"NQNX","v":7900},{"t":"11:08:42","ex":"NQEX","v":9300},{"t":"11:08:44","ex":"NQNX","v":2000},{"t":"11:08:44","ex":"PACF","v":1200},{"t":"11:08:44","ex":"BATY","v":1200},
{"t":"11:08:54","ex":"NYSE","v":2000},{"t":"11:08:54","ex":"NQNX","v":2200},{"t":"11:09:00","ex":"NQEX","v":4300},{"t":"11:10:02","ex":"NYSE","v":1000},{"t":"11:10:02","ex":"NQNX","v":800},{"t":"11:10:22","ex":"NQNX","v":600},
{"t":"11:10:56","ex":"NQEX","v":4900},{"t":"11:12:04","ex":"NQEX","v":2300},{"t":"11:13:06","ex":"NQNX","v":4900},{"t":"11:14:08","ex":"NQEX","v":2900},{"t":"11:14:18","ex":"BATY","v":600},{"t":"11:15:10","ex":"NYSE","v":600},{"t":"11:15:46","ex":"NQNX","v":1900}
],"format":{"parse":{"t":"date:'%H:%M:%S'"}}},
"mark":{"type":"bar","width":2},
"encoding":{
"x":{"field":"t","type":"temporal","scale":{"domain":[{"year":1900,"month":1,"date":1,"hours":10,"minutes":40},{"year":1900,"month":1,"date":1,"hours":11,"minutes":18,"seconds":30}]},
"axis":{"orient":"bottom","format":"%H:%M","grid":true,"gridColor":"#555555","labelPadding":5,"tickCount":40,
"values":[{"year":1900,"month":1,"date":1,"hours":10,"minutes":42},{"year":1900,"month":1,"date":1,"hours":10,"minutes":44},{"year":1900,"month":1,"date":1,"hours":10,"minutes":46},{"year":1900,"month":1,"date":1,"hours":10,"minutes":48},{"year":1900,"month":1,"date":1,"hours":10,"minutes":50},{"year":1900,"month":1,"date":1,"hours":10,"minutes":52},{"year":1900,"month":1,"date":1,"hours":10,"minutes":54},{"year":1900,"month":1,"date":1,"hours":10,"minutes":56},{"year":1900,"month":1,"date":1,"hours":10,"minutes":58},{"year":1900,"month":1,"date":1,"hours":11,"minutes":0},{"year":1900,"month":1,"date":1,"hours":11,"minutes":2},{"year":1900,"month":1,"date":1,"hours":11,"minutes":4},{"year":1900,"month":1,"date":1,"hours":11,"minutes":6},{"year":1900,"month":1,"date":1,"hours":11,"minutes":8},{"year":1900,"month":1,"date":1,"hours":11,"minutes":10},{"year":1900,"month":1,"date":1,"hours":11,"minutes":12},{"year":1900,"month":1,"date":1,"hours":11,"minutes":14},{"year":1900,"month":1,"date":1,"hours":11,"minutes":16}]}},
"y":{"field":"v","type":"quantitative","stack":"zero","scale":{"domain":[-630,27730],"nice":false,"zero":false},
"axis":{"orient":"right","values":[0,5000,10000,15000,20000,25000],"tickCount":20,"labelExpr":"(datum.value/1000) + 'K'","grid":true,"gridColor":"#444444","gridDash":[4,4],"labelPadding":3}},
"color":{"field":"ex","type":"nominal","legend":null,"scale":{"domain":["NQEX","NYSE","CBOE","PACF","CINC","PHIL","BOST","CHIC","NQNX","NTRF","BATS","BATY","EDGE","EDGX"],"range":["#c8c8c8","#3535e6","#b8e020","#ff2020","#ff9a00","#30c030","#d4f000","#2f8fd0","#00ff00","#40ffc8","#b040e0","#ff40b0","#c8881e","#30aee8"]}}}},
{"data":{"values":[{"s":"Trade Volume"}]},
"mark":{"type":"text","align":"left","baseline":"middle","font":"DejaVu Sans Mono","fontSize":10,"color":"white"},
"encoding":{"x":{"datum":{"year":1900,"month":1,"date":1,"hours":11,"minutes":14,"seconds":24},"type":"temporal"},"y":{"datum":25000,"type":"quantitative"},"text":{"field":"s"}}}
]
}
]
}
